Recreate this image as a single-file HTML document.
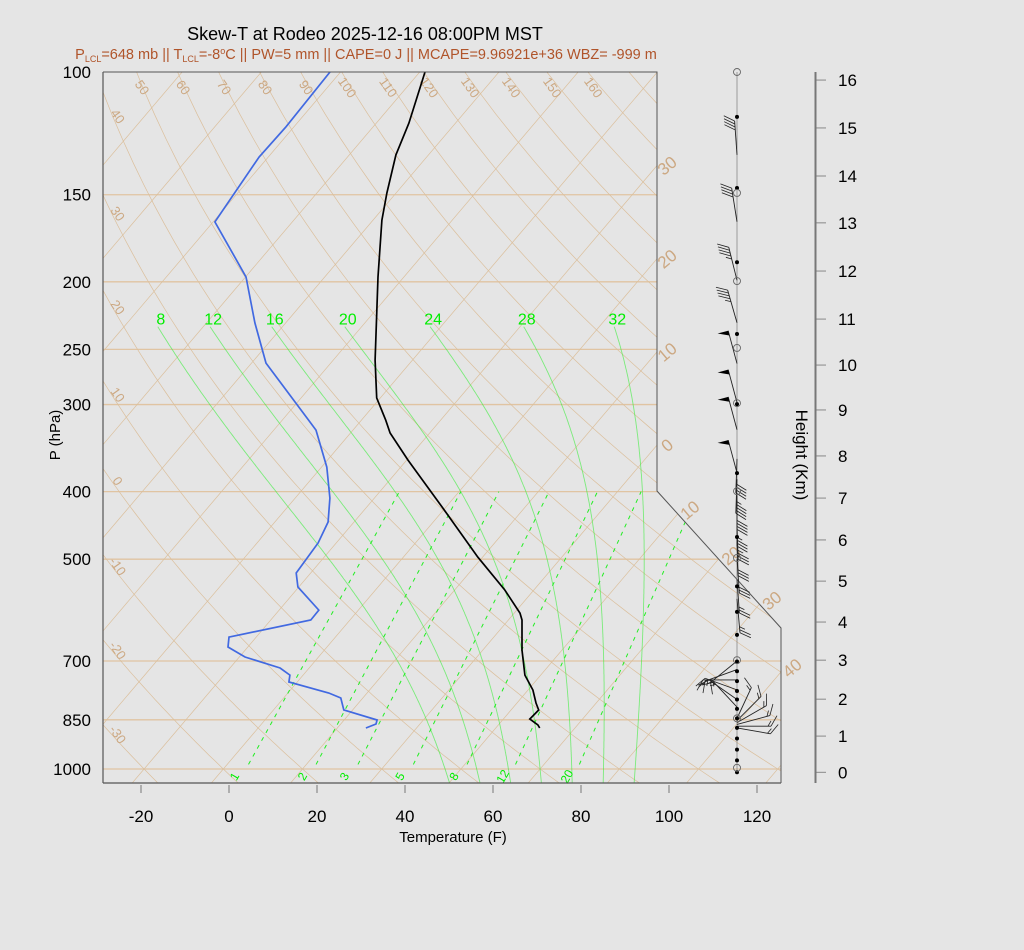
<!DOCTYPE html>
<html><head><meta charset="utf-8"><title>Skew-T Rodeo</title>
<style>
html,body{margin:0;padding:0;background:#e5e5e5;}
svg{display:block;font-family:"Liberation Sans",sans-serif;}
</style></head>
<body>
<svg id="chart" width="1024" height="950" viewBox="0 0 1024 950">
<defs><clipPath id="plotclip"><polygon points="103,72 657,72 657,491 781,628 781,783 103,783"/></clipPath></defs>
<rect x="0" y="0" width="1024" height="950" fill="#e5e5e5"/>
<text x="365" y="40" font-size="18" text-anchor="middle" fill="#000">Skew-T at Rodeo 2025-12-16 08:00PM MST</text>
<text x="366" y="59" font-size="14.5" text-anchor="middle" fill="#b0542a">P<tspan font-size="9" dy="3">LCL</tspan><tspan dy="-3">=648 mb || T</tspan><tspan font-size="9" dy="3">LCL</tspan><tspan dy="-3">=-8</tspan><tspan font-size="9" dy="-5">o</tspan><tspan dy="5">C || PW=5 mm || CAPE=0 J || MCAPE=9.96921e+36 WBZ= -999 m</tspan></text>
<g id="grid" clip-path="url(#plotclip)"></g>
<g id="gridlabels"></g>
<g id="traces" clip-path="url(#plotclip)"></g>
<polyline points="103,72 657,72 657,491 781,628 781,783" fill="none" stroke="#555" stroke-width="1"/>
<line x1="103" y1="72" x2="103" y2="783" stroke="#555" stroke-width="1.2"/>
<line x1="103" y1="783" x2="781" y2="783" stroke="#555" stroke-width="1.2"/>
<g id="axes"></g>
<text transform="translate(60,435) rotate(-90)" font-size="15" text-anchor="middle">P (hPa)</text>
<text x="453" y="842" font-size="15" text-anchor="middle">Temperature (F)</text>
<text transform="translate(796,455) rotate(90)" font-size="17" text-anchor="middle">Height (Km)</text>
<line x1="815.5" y1="72" x2="815.5" y2="783" stroke="#777" stroke-width="2"/>
<line x1="737" y1="72" x2="737" y2="773" stroke="#888" stroke-width="0.8"/>
<g id="winds"></g>
</svg>
<script>
// ---- data ----
const pressureTicks = [100,150,200,250,300,400,500,700,850,1000];
const tempTicksF = [-20,0,20,40,60,80,100,120];
const heightKm = [0,1,2,3,4,5,6,7,8,9,10,11,12,13,14,15,16];
const heightP = [1011,897,794,698,615.4,537.6,469.2,408.6,355.5,305.4,263.3,226.2,193.0,164.6,141.0,120.3,102.7];
const tempP = [100,118.4,131.5,149.1,163.1,196.8,259,293.6,315.8,329.6,360.4,422.3,496.5,553.6,597.4,611.3,675.1,733.3,770.2,804,823,847.8,864.8,873.4];
const tempF = [-92.8,-86.6,-83.4,-78.1,-74.0,-63.9,-48.5,-40.8,-34.5,-31.0,-21.7,-4.5,12.9,25.4,33.3,35.1,40.9,46.4,51.1,54.3,56.3,56.0,59.0,60.0];
const dewP = [100,119.9,132.4,164.1,196.8,229.1,261.6,313.6,326.4,368.8,408.6,442.2,474.0,523.3,548.2,591.5,611.3,646.7,668.3,690.7,716.3,733.3,750.2,778.0,791.0,823,850.6,861.8,873.4];
const dewF = [-114.4,-113.8,-114.1,-111.6,-93.9,-83.0,-72.7,-52.8,-48.4,-38.8,-32.1,-27.9,-26.1,-25.3,-22.2,-13.0,-12.9,-28.2,-26.5,-20.7,-10.6,-7.0,-5.9,5.3,9.0,12.0,21.5,22.0,20.5];
const dryThetaC = [-60,-50,-40,-30,-20,-10,0,10,20,30,40,50,60,70,80,90,100,110,120,130,140,150,160,170,180,190,200];
const isothermC = [-130,-120,-110,-100,-90,-80,-70,-60,-50,-40,-30,-20,-10,0,10,20,30,40,50];
const moistThetaW = [8,12,16,20,24,28,32];
const mixRatio = [1,2,3,5,8,12,20];
const barbP = [131.5,164,199,229,262,298,326,376,359,384,405,428,447,472,500,534,570,700,720,745,770,795,815,846,852,858,863,868,873];
const barbDir = [356,351,346,344,345,345,345,345,182,182,180,180,178,178,176,176,175,231,250,270,290,305,317,25,45,60,75,90,100];
const barbSpd = [40,40,45,45,50,50,50,50,40,45,40,35,35,30,30,25,25,15,15,15,20,15,15,15,15,15,15,15,15];
const dotP = [116,146.7,187.5,237.6,299.6,376.3,464.6,547,595,642,701,724,748,773,795,820,846,873,904,938,972,1011];
const ringP = [100,149.1,199.5,248.8,298.6,399.4,497.9,698,846,996];

// ---- scales ----
const NS='http://www.w3.org/2000/svg';
const yP = p => 72 + 697*Math.log10(p/100);
const xT = (tF,p) => 229 + 4.4*tF + 0.85*(783 - yP(p));
const c2f = c => c*1.8+32;
function mk(tag, attrs, parent){const e=document.createElementNS(NS,tag);for(const k in attrs)e.setAttribute(k,attrs[k]);parent.appendChild(e);return e;}
const grid=document.getElementById('grid'), gl=document.getElementById('gridlabels'),
      tr=document.getElementById('traces'), ax=document.getElementById('axes'), wd=document.getElementById('winds');
const TAN='#dbbf9c', TANL='#cca882';

// isobars
pressureTicks.forEach(p=>{ if(p===100) return;
  const l=mk('line',{x1:103,x2:790,y1:yP(p),y2:yP(p),stroke:'#e0c4a2','stroke-width':1.3},grid);
  
  
});
// isotherms
isothermC.forEach(c=>{
  const l=mk('line',{x1:xT(c2f(c),1060),y1:yP(1060),x2:xT(c2f(c),95),y2:yP(95),stroke:TAN,'stroke-width':0.7},grid);
  
  
});
// dry adiabats
const dryPts=(th)=>{let s=[];for(let p=95;p<=1060;p+=10){const T=(th+273.15)*Math.pow(p/1000,0.2857)-273.15;s.push(xT(c2f(T),p).toFixed(1)+','+yP(p).toFixed(1));}return s.join(' ');};
dryThetaC.forEach(th=>{
  const l=mk('polyline',{points:dryPts(th),fill:'none',stroke:TAN,'stroke-width':0.7},grid);
  
  
});
// moist adiabats
function es(Tc){return 6.112*Math.exp(17.67*Tc/(Tc+243.5));}
function dTdp(T,p){const e=es(T-273.15);const rs=0.622*e/(p-e);return (287*T+2.5e6*rs)/(p*(1005+2.5e6*2.5e6*rs*0.622/(287*T*T)));}
function moistLine(thw){
  let pts=[];let T=thw+273.15,p=1000;
  let Td=T;for(let q=1000;q<1060;q+=2){Td+=dTdp(Td,q)*2;}
  const low=[[1060,Td]];
  pts.push([1000,T]);
  while(p>232){T-=dTdp(T,p)*2;p-=2;pts.push([p,T]);}
  return low.concat(pts);
}
moistThetaW.forEach(th=>{
  const pts=moistLine(th);
  const s=pts.map(([p,T])=>xT(c2f(T-273.15),p).toFixed(1)+','+yP(p).toFixed(1)).join(' ');
  const l=mk('polyline',{points:s,fill:'none',stroke:'#33ee33','stroke-opacity':0.6,'stroke-width':0.9},grid);
  
  
  const top=pts[pts.length-1];
  const t=mk('text',{x:xT(c2f(top[1]-273.15),top[0])+3,y:yP(top[0])-2,'font-size':16,'text-anchor':'middle',fill:'#00ee00'},gl);
  t.textContent=th;
  
  
});
// mixing ratio lines
function tdFromW(w,p){const e=w*p/(622+w);const L=Math.log(e/6.112);return 243.5*L/(17.67-L);}
mixRatio.forEach(w=>{
  const p1=985,p2=400;
  const l=mk('line',{x1:xT(c2f(tdFromW(w,p1)),p1),y1:yP(p1),x2:xT(c2f(tdFromW(w,p2)),p2),y2:yP(p2),stroke:'#22ee22','stroke-width':1,'stroke-dasharray':'4,5'},grid);
  
  
  const x=xT(c2f(tdFromW(w,1025)),1025)-4, y=yP(1025)+2;
  const t=mk('text',{x:x,y:y,'font-size':12,'text-anchor':'middle',fill:'#00ee00',transform:`rotate(-60 ${x} ${y})`},gl);
  t.textContent=w;
  
  
});
// dry adiabat labels
dryThetaC.forEach(th=>{
  const Tat=p=>(th+273.15)*Math.pow(p/1000,0.2857)-273.15;
  let x,y;
  if(th>=50 && th<=160){x=xT(c2f(Tat(100)),100)+2;y=90;}
  else if(th>=-30 && th<=40){
    let best=null;for(let p=100;p<=1050;p+=1){const xx=xT(c2f(Tat(p)),p);if(xx>=112){best=p;break;}}
    if(!best)return; x=114;y=yP(best)+2;
  } else return;
  const t=mk('text',{x:x,y:y,'font-size':13,'text-anchor':'middle',fill:TANL,transform:`rotate(55 ${x} ${y})`},gl);
  t.textContent=th;
  
  
});
// isotherm labels
isothermC.forEach(c=>{
  let x,y;const f=c2f(c);
  if(c>=-30&&c<=0){x=667;y=783-(657-229-4.4*f)/0.85;}
  else if(c>=10&&c<=40){
    let yy=783-(781-229-4.4*f)/0.85;
    if(yy<628){
      for(let t=491;t<=628;t+=0.5){const xe=657+(t-491)*124/137;const xi=229+4.4*f+0.85*(783-t);if(xi<=xe){yy=t;break;}}
      x=657+(yy-491)*124/137+12;y=yy-4;
    } else {x=792;y=yy-4;}
  } else return;
  const t=mk('text',{x:x,y:y+6,'font-size':17,'text-anchor':'middle',fill:TANL,transform:`rotate(-40 ${x} ${y})`},gl);
  t.textContent=String(Math.abs(c));
  
  
});
// traces
const tLine=mk('polyline',{points:tempP.map((p,i)=>xT(tempF[i],p).toFixed(1)+','+yP(p).toFixed(1)).join(' '),fill:'none',stroke:'#000','stroke-width':1.7},tr);


const dLine=mk('polyline',{points:dewP.map((p,i)=>xT(dewF[i],p).toFixed(1)+','+yP(p).toFixed(1)).join(' '),fill:'none',stroke:'#4169e1','stroke-width':1.7},tr);


// pressure axis labels
pressureTicks.forEach(p=>{
  const t=mk('text',{x:91,y:yP(p)+6,'font-size':17,'text-anchor':'end',fill:'#000'},ax);
  t.textContent=p;
  
  
});
// temperature ticks
tempTicksF.forEach(f=>{
  const x=229+4.4*f;
  const l=mk('line',{x1:x,x2:x,y1:785,y2:793,stroke:'#777','stroke-width':1},ax);
  
  
  const t=mk('text',{x:x,y:822,'font-size':17,'text-anchor':'middle',fill:'#000'},ax);
  t.textContent=f;
  
  
});
// height axis
heightKm.forEach((h,i)=>{
  const y=yP(heightP[i]);
  const l=mk('line',{x1:816,x2:826,y1:y,y2:y,stroke:'#888','stroke-width':1},ax);
  
  
  const t=mk('text',{x:838,y:y+6,'font-size':17,'text-anchor':'start',fill:'#000'},ax);
  t.textContent=h;
  
  
});
// wind barbs
const BX=737, L=34;
barbP.forEach((p,i)=>{
  const d=barbDir[i]*Math.PI/180, s=barbSpd[i];
  const by=yP(p);
  const ux=Math.sin(d), uy=-Math.cos(d);
  const px=-Math.cos(d), py=-Math.sin(d);
  const g=mk('g',{},wd);
  
  
  const tx=BX+L*ux, ty=by+L*uy;
  mk('line',{x1:BX,y1:by,x2:tx,y2:ty,stroke:'#222','stroke-width':0.9},g);
  let rem=s, pos=0;
  const flags=Math.floor(rem/50); rem-=flags*50;
  for(let k=0;k<flags;k++){
    const ax0=tx-ux*pos, ay0=ty-uy*pos;
    const ax1=ax0-ux*5, ay1=ay0-uy*5;
    mk('polygon',{points:`${ax0},${ay0} ${ax0+px*11},${ay0+py*11} ${ax1},${ay1}`,fill:'#000'},g);
    pos+=6;
  }
  const full=Math.floor(rem/10); rem-=full*10;
  for(let k=0;k<full;k++){
    const ax0=tx-ux*pos, ay0=ty-uy*pos;
    mk('line',{x1:ax0,y1:ay0,x2:ax0+(px*0.87+ux*0.5)*12,y2:ay0+(py*0.87+uy*0.5)*12,stroke:'#222','stroke-width':0.8},g);
    pos+=3;
  }
  if(rem>=5){
    const ax0=tx-ux*pos, ay0=ty-uy*pos;
    mk('line',{x1:ax0,y1:ay0,x2:ax0+(px*0.87+ux*0.5)*6,y2:ay0+(py*0.87+uy*0.5)*6,stroke:'#222','stroke-width':0.8},g);
  }
});
dotP.forEach(p=>{
  const c=mk('circle',{cx:BX,cy:yP(p),r:2,fill:'#000'},wd);
  
  
});
ringP.forEach(p=>{
  const c=mk('circle',{cx:BX,cy:yP(p),r:3.5,fill:'none',stroke:'#666','stroke-width':0.9},wd);
  
  
});
</script>
</body></html>
